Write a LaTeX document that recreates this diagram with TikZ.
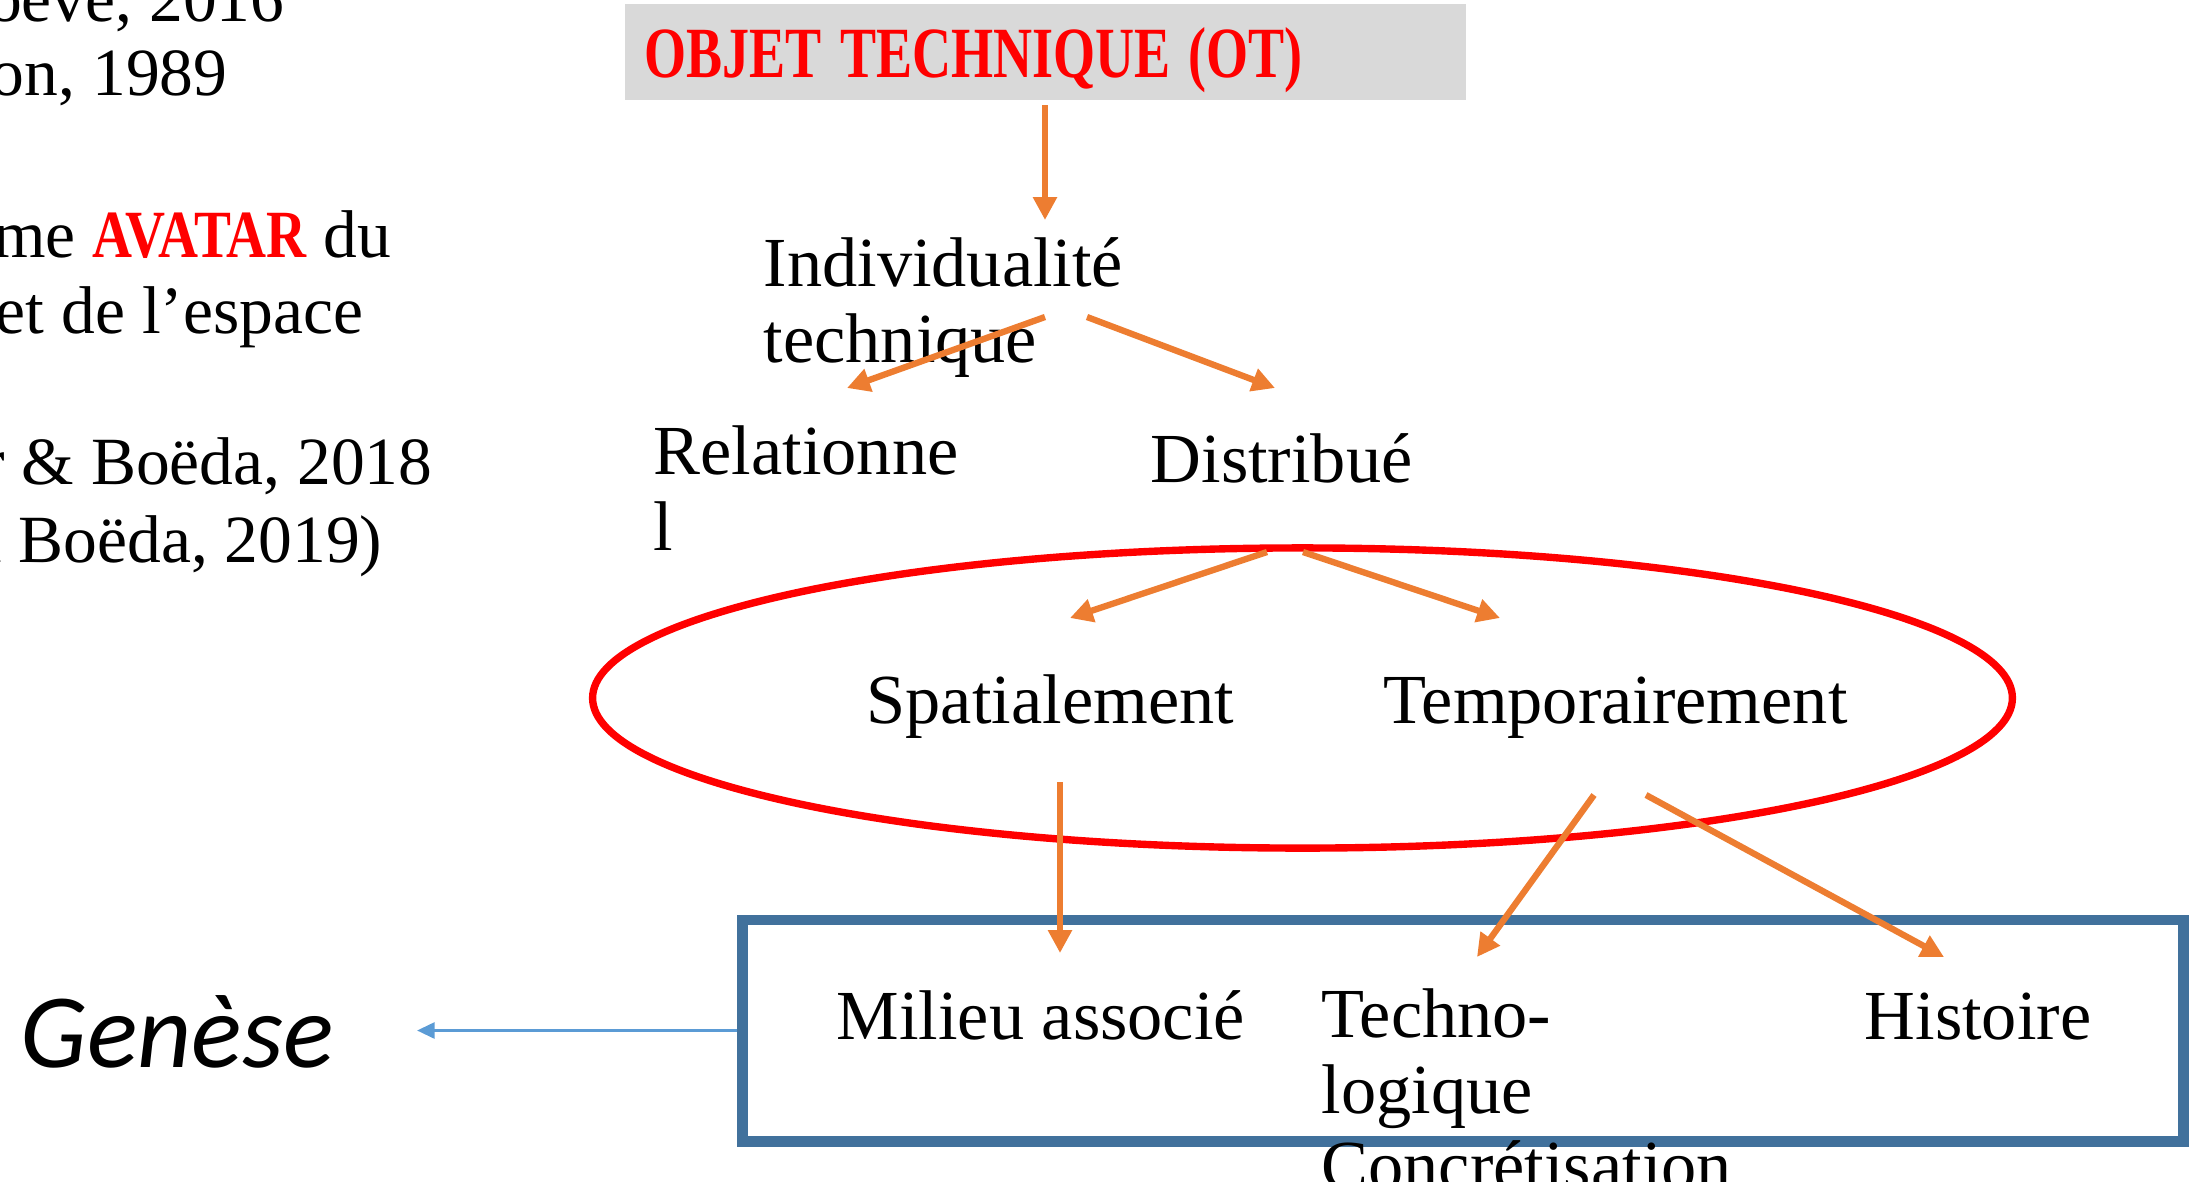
\documentclass[tikz,border=0pt]{standalone}
\usepackage{fontspec}
\usepackage{graphicx}
\setmainfont{Liberation Serif}
\newfontfamily\genesefont{Carlito}
\usepackage{tikz}
\usetikzlibrary{shapes,arrows.meta,positioning}

\definecolor{otorange}{HTML}{ED7D31}
\definecolor{otred}{HTML}{FF0000}
\definecolor{otgray}{HTML}{D9D9D9}
\definecolor{otblue}{HTML}{41719C}
\definecolor{otlight}{HTML}{5B9BD5}

\begin{document}
\begin{tikzpicture}[
    x=0.01cm, y=-0.01cm,
    lbl/.style={inner sep=0pt, anchor=base west, align=left, font=\fontsize{20}{21.5}\selectfont},
    cite/.style={lbl, anchor=base east, font=\fontsize{19.2}{21}\selectfont},
    titlebox/.style={rectangle, fill=otgray, text=otred, font=\fontsize{20.5}{22}\selectfont\bfseries,
        minimum width=8.41cm, minimum height=0.96cm, text width=8.01cm, text height=0.73cm, text depth=0.23cm,
        inner xsep=0.2cm, inner ysep=0pt, align=left},
    oval/.style={ellipse, draw=otred, line width=2.1pt, minimum width=14.19cm, minimum height=3.0cm, inner sep=0pt},
    frame/.style={rectangle, draw=otblue, line width=3.1pt, minimum width=14.40cm, minimum height=2.21cm, inner sep=0pt},
    arr/.style={draw=otorange, line width=1.8pt, -{Triangle[length=6.5pt,width=6.5pt]}},
    back/.style={draw=otlight, line width=0.9pt, -{Triangle[length=5pt,width=4.5pt]}}
]
\useasboundingbox (0,0) rectangle (2202,1181);

% references on the left (cut by the page)
\node[cite] (ref1) at (285,21) {oeve, 2016};
\node[cite] (ref2) at (228,95) {on, 1989};
\node[cite] (ref3) at (392,257) {me {\color{otred}\bfseries\scalebox{0.82}[1]{AVATAR}} du};
\node[cite] (ref4) at (364,333) {et de l’espace};
\node[cite] (ref5) at (433,484) {r \& Boëda, 2018};
\node[cite] (ref6) at (383,562) {\& Boëda, 2019)};

% shapes
\node[titlebox] (title) at (1045.5,52) {\scalebox{0.75}[1]{OBJET TECHNIQUE (OT)}};
\node[oval] (distrib) at (1302.5,698) {};
\node[frame] (genbox) at (1463,1030.5) {};

% labels
\node[lbl] (indiv) at (763,362) {Individualité\\technique};
\node[lbl] (relat) at (653,550) {Relationne\\l};
\node[lbl] (distr) at (1150,482) {Distribué};
\node[lbl] (spat) at (866,723) {Spatialement};
\node[lbl] (temp) at (1383,723) {Temporairement};
\node[lbl] (milieu) at (836,1039) {Milieu associé};
\node[lbl] (techno) at (1321,1189) {Techno-\\logique\\Concrétisation};
\node[lbl] (hist) at (1864,1039) {Histoire};
\node[inner sep=0pt, anchor=base west, font=\genesefont\itshape\fontsize{30}{31}\selectfont] (genese) at (20,1067) {Genèse};

% arrow ends
\coordinate (p1) at (1045,105);  \coordinate (q1) at (1045,220);
\coordinate (p2) at (1045,317);  \coordinate (q2) at (847,388);
\coordinate (p3) at (1087,317);  \coordinate (q3) at (1275,388);
\coordinate (p4) at (1267,552);  \coordinate (q4) at (1070,618);
\coordinate (p5) at (1303,552);  \coordinate (q5) at (1500,618);
\coordinate (p6) at (1060,782);  \coordinate (q6) at (1060,953);
\coordinate (p7) at (1594,795);  \coordinate (q7) at (1477,957);
\coordinate (p8) at (1646,795);  \coordinate (q8) at (1944,957);
\coordinate (gtip) at (417,1030.5);

\draw[arr] (p1) -- (q1);
\draw[arr] (p2) -- (q2);
\draw[arr] (p3) -- (q3);
\draw[arr] (p4) -- (q4);
\draw[arr] (p5) -- (q5);
\draw[arr] (p6) -- (q6);
\draw[arr] (p7) -- (q7);
\draw[arr] (p8) -- (q8);
\draw[back] (genbox.west) -- (gtip);

\end{tikzpicture}
\end{document}
